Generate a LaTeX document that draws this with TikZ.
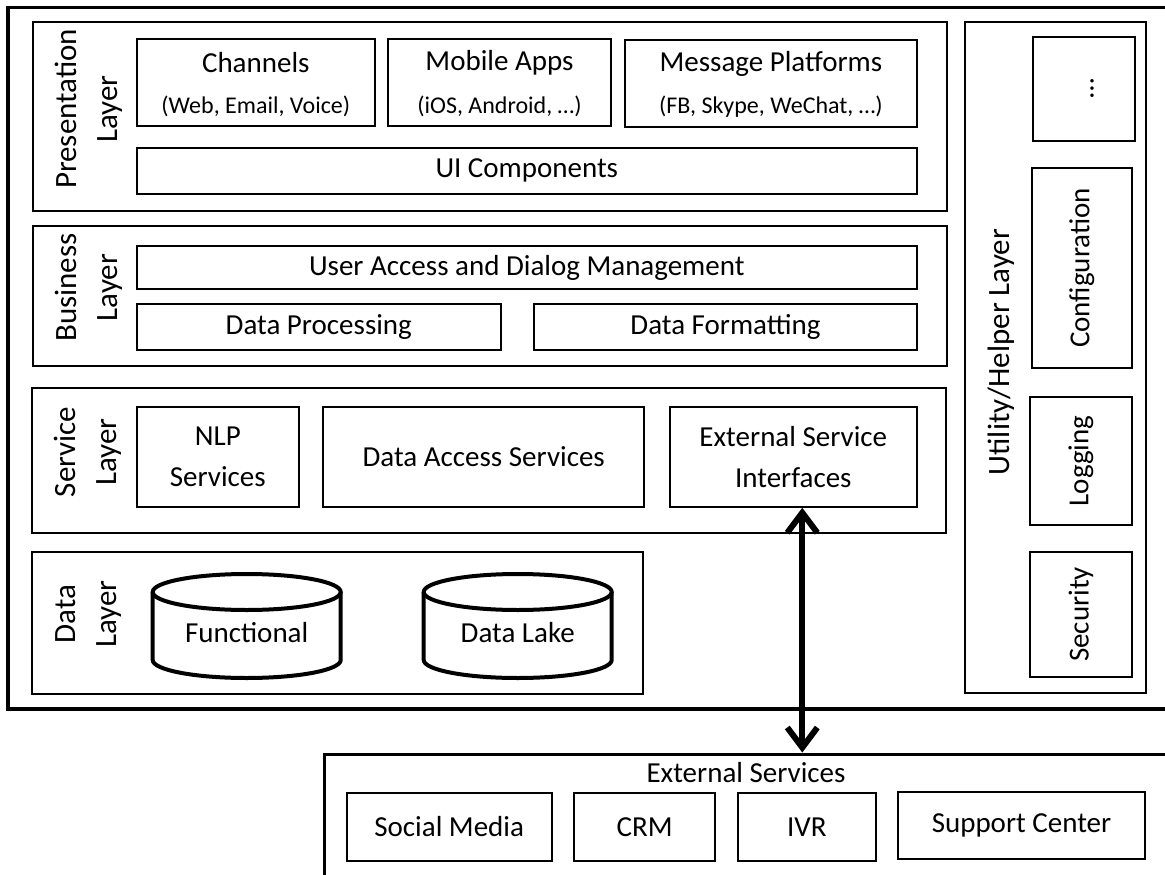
\documentclass[tikz,border=0pt]{standalone}
\usepackage{fontspec}
\setmainfont{Carlito}
\usetikzlibrary{arrows.meta}
\begin{document}
\begin{tikzpicture}[x=1pt,y=-1pt,
  box/.style={draw, line width=2pt, inner sep=0pt, font=\fontsize{29}{41.6}\selectfont, align=center},
  layer/.style={draw, line width=2pt, inner sep=0pt},
  lbl/.style={inner sep=0pt, font=\fontsize{29}{41.6}\selectfont, align=center},
  sublbl/.style={inner sep=0pt, font=\fontsize{24}{28}\selectfont},
  layerlbl/.style={inner sep=0pt, rotate=90, align=center, font=\fontsize{31}{41}\selectfont},
  cyl/.style={line width=4pt},
  biarrow/.style={line width=6pt, {Straight Barb[length=20pt,width=30pt]}-{Straight Barb[length=20pt,width=30pt]}}
]
\useasboundingbox (0,0) rectangle (1165,875);
\clip (0,0) rectangle (1165,875);
\fill[white] (0,0) rectangle (1165,875);

% outer frame
\node[draw, line width=3.5pt, inner sep=0pt, minimum width=1172pt, minimum height=701.5pt] (frame) at (594,358.25) {};

% layers
\node[layer, minimum width=914pt, minimum height=189pt] (pres) at (489.5,116.2) {};
\node[layer, minimum width=914pt, minimum height=139.7pt] (bus) at (489.5,295.9) {};
\node[layer, minimum width=913.5pt, minimum height=144.7pt] (serv) at (488.8,460.4) {};
\node[layer, minimum width=610.7pt, minimum height=142.3pt] (data) at (337.3,622.9) {};
\node[layer, minimum width=180.6pt, minimum height=671.3pt] (util) at (1055.7,357.4) {};

% layer labels
\node[layerlbl] (preslbl) at (88.5,109) {Presentation\\Layer};
\node[layerlbl] (buslbl) at (88.5,287.5) {Business\\Layer};
\node[layerlbl] (servlbl) at (87.5,452) {Service\\Layer};
\node[layerlbl] (datalbl) at (88.5,614) {Data\\Layer};
\node[layerlbl] (utillbl) at (1001.6,352) {Utility/Helper Layer};

% presentation layer
\node[box, minimum width=238.4pt, minimum height=86.7pt] (chan) at (255.8,82.7) {};
\node[lbl] (chant) at (255.8,63) {Channels};
\node[sublbl] (chans) at (255.8,106) {(Web, Email, Voice)};
\node[box, minimum width=222.2pt, minimum height=86.7pt] (mob) at (499.5,82.7) {};
\node[lbl] (mobt) at (499.5,63) {Mobile Apps};
\node[sublbl] (mobs) at (499.5,106) {(iOS, Android, …)};
\node[box, minimum width=292.2pt, minimum height=87pt] (msg) at (770.9,83.2) {};
\node[lbl] (msgt) at (770.9,64) {Message Platforms};
\node[sublbl] (msgs) at (770.9,107) {(FB, Skype, WeChat, …)};
\node[box, minimum width=780.4pt, minimum height=46.3pt] (ui) at (526.8,170.9) {UI Components};

% business layer
\node[box, minimum width=780.4pt, minimum height=43.6pt] (uadm) at (526.8,267.5) {User Access and Dialog Management};
\node[box, minimum width=364.4pt, minimum height=46pt] (dproc) at (318.8,327) {Data Processing};
\node[box, minimum width=383pt, minimum height=46pt] (dfmt) at (725.5,327) {Data Formatting};

% service layer
\node[box, minimum width=162pt, minimum height=99.7pt] (nlp) at (217.8,456.9) {NLP\\Services};
\node[box, minimum width=321.3pt, minimum height=99.7pt] (dacc) at (483.7,456.9) {Data Access Services};
\node[box, minimum width=247.5pt, minimum height=99.7pt] (esi) at (793.3,456.9) {External Service\\Interfaces};

% data layer cylinders
\draw[cyl] (152.7,592) -- (152.7,660) arc[start angle=180, end angle=360, x radius=94pt, y radius=18pt] -- (340.7,592);
\draw[cyl] (246.7,592) ellipse [x radius=94pt, y radius=18pt];
\node[lbl] (func) at (246.7,633) {Functional};
\draw[cyl] (423.7,592) -- (423.7,660) arc[start angle=180, end angle=360, x radius=94pt, y radius=18pt] -- (611.7,592);
\draw[cyl] (517.7,592) ellipse [x radius=94pt, y radius=18pt];
\node[lbl] (lake) at (517.7,633) {Data Lake};

% utility layer
\node[box, minimum width=102pt, minimum height=104.3pt] (more) at (1084,88.9) {};
\node[lbl, rotate=90] (moret) at (1092,88.5) {…};
\node[box, minimum width=100.5pt, minimum height=200pt] (conf) at (1081.8,268) {};
\node[lbl, rotate=90] (conft) at (1081.8,268) {Configuration};
\node[box, minimum width=102pt, minimum height=128.3pt] (logg) at (1081,460.9) {};
\node[lbl, rotate=90] (loggt) at (1081,460.9) {Logging};
\node[box, minimum width=102pt, minimum height=125.3pt] (secu) at (1081,614.4) {};
\node[lbl, rotate=90] (secut) at (1081,614.4) {Security};

% external services
\node[draw, line width=3pt, inner sep=0pt, minimum width=856pt, minimum height=136pt] (exts) at (752,822) {};
\node[lbl] (extst) at (746,773) {External Services};
\node[box, minimum width=205pt, minimum height=68pt] (social) at (449.2,827) {Social Media};
\node[box, minimum width=141.3pt, minimum height=68pt] (crm) at (644.7,827) {CRM};
\node[box, minimum width=137.7pt, minimum height=68pt] (ivr) at (806.9,827) {IVR};
\node[box, minimum width=247pt, minimum height=67pt] (supp) at (1021.5,825) {Support Center};

% connector
\coordinate (atop) at ([xshift=9pt]esi.south);
\draw[biarrow] (atop) -- (atop |- exts.north);
\end{tikzpicture}
\end{document}
